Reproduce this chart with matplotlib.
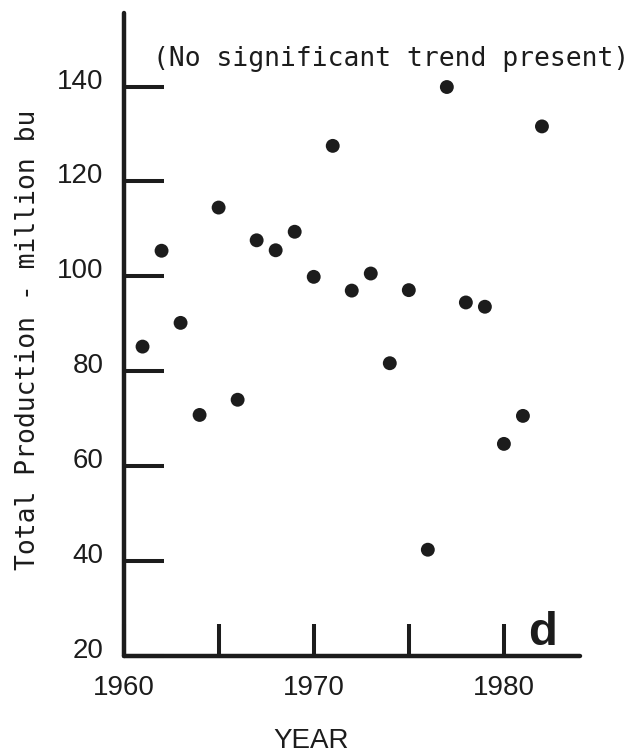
import matplotlib
matplotlib.use("Agg")
import matplotlib.pyplot as plt
import matplotlib.transforms as mtransforms

# annual total production, million bu
years = [1961, 1962, 1963, 1964, 1965, 1966, 1967, 1968, 1969, 1970, 1971,
         1972, 1973, 1974, 1975, 1976, 1977, 1978, 1979, 1980, 1981, 1982]
production = [85.2, 105.4, 90.2, 70.8, 114.5, 74.0, 107.6, 105.5, 109.4, 99.9, 127.5,
              97.0, 100.6, 81.7, 97.1, 42.4, 139.9, 94.5, 93.6, 64.7, 70.6, 131.6]

x_ticks = [1960, 1965, 1970, 1975, 1980]
x_tick_labels = ["1960", "", "1970", "", "1980"]
y_ticks = [20, 40, 60, 80, 100, 120, 140]
y_tick_labels = ["20", "40", "60", "80", "100", "120", "140"]

ink = "#1c1c1c"
mono = "DejaVu Sans Mono"
sans = "Liberation Sans"

fig = plt.figure(figsize=(6.44, 7.55), dpi=100)
ax = fig.add_axes([0.1918, 0.1311, 0.7088, 0.8517])

ax.scatter(years, production, s=100, color=ink, edgecolors="none", zorder=3)

ax.set_xlim(1960, 1984)
ax.set_ylim(20, 155.5)

for side in ("top", "right"):
    ax.spines[side].set_visible(False)
for side in ("left", "bottom"):
    ax.spines[side].set_linewidth(3.2)
    ax.spines[side].set_color(ink)
    ax.spines[side].set_capstyle("round")

ax.set_xticks(x_ticks)
ax.set_xticklabels(x_tick_labels, fontfamily=sans, fontsize=20, color=ink)
ax.set_yticks(y_ticks)
ax.set_yticklabels(y_tick_labels, fontfamily=sans, fontsize=20, color=ink)

ax.tick_params(axis="x", direction="in", length=23, width=2.9, color=ink, pad=14)
ax.tick_params(axis="y", direction="in", length=29, width=2.9, color=ink, pad=14.5)

# y labels sit a little above their tick marks in the original
shift = mtransforms.ScaledTranslation(0, 8 / 100, fig.dpi_scale_trans)
for lab in ax.get_yticklabels():
    lab.set_transform(lab.get_transform() + shift)

fig.text(28 / 644, 1 - 340 / 755, "Total Production - million bu", rotation=90,
         ha="center", va="center", fontfamily=mono, fontsize=19, color=ink)
fig.text(311 / 644, 1 - 748 / 755, "YEAR", ha="center", va="baseline",
         fontfamily=sans, fontsize=20, color=ink)
fig.text(153 / 644, 1 - 66 / 755, "(No significant trend present)", ha="left",
         va="baseline", fontfamily=mono, fontsize=19, color=ink)
fig.text(528 / 644, 1 - 645 / 755, "d", ha="left", va="baseline",
         fontfamily=sans, fontweight="bold", fontsize=34, color=ink)

fig.savefig("out.png", dpi=100)
